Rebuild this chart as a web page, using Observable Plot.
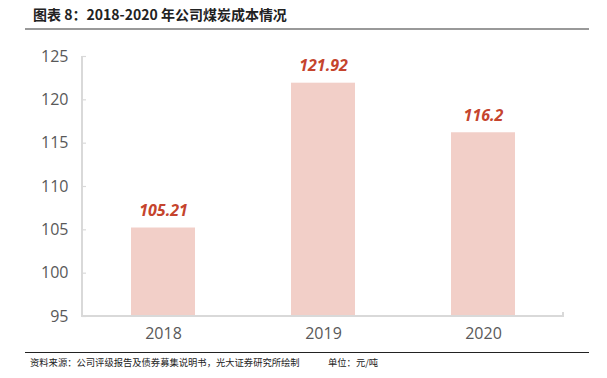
<!DOCTYPE html>
<html><head><meta charset="utf-8">
<script src="https://cdn.jsdelivr.net/npm/d3@7"></script>
<script src="https://cdn.jsdelivr.net/npm/@observablehq/plot@0.6"></script>
<style>
body{margin:0;width:607px;height:378px;background:#fff;position:relative;overflow:hidden;font-family:"Noto Sans CJK SC","Noto Sans",sans-serif;}
#title{position:absolute;left:33px;top:4px;font-size:14px;font-weight:bold;color:#222;line-height:20px;white-space:nowrap;}
#tline{position:absolute;left:25px;top:28px;width:564px;height:0;border-top:2px solid #999;}
#chart{position:absolute;left:0;top:30px;}
#fline{position:absolute;left:25px;top:352px;width:564px;height:0;border-top:1px solid #222;}
#src{position:absolute;left:30px;top:355px;font-size:9.3px;color:#222;line-height:14px;white-space:nowrap;}
#unit{position:absolute;left:328px;top:355px;font-size:9.3px;color:#222;line-height:14px;white-space:nowrap;}
</style></head>
<body>
<div id="title">图表 8：2018-2020 年公司煤炭成本情况</div>
<div id="tline"></div>
<div id="chart"></div>
<div id="fline"></div>
<div id="src">资料来源：公司评级报告及债券募集说明书，光大证券研究所绘制</div>
<div id="unit">单位：元/吨</div>
<script>
const years = ["2018", "2019", "2020"];
const costs = [105.21, 121.92, 116.2];
const costLabels = ["105.21", "121.92", "116.2"];
const yTicks = [95, 100, 105, 110, 115, 120, 125];

const data = years.map((y, i) => ({year: y, cost: costs[i], label: costLabels[i]}));

// axis frame lines (left + bottom), drawn from the plot dimensions
function axisFrame(index, scales, values, dims) {
  const g = d3.create("svg:g").attr("stroke", "#d9d9d9").attr("stroke-width", 2).attr("fill", "none");
  const l = dims.marginLeft, r = dims.width - dims.marginRight;
  const t = dims.marginTop, b = dims.height - dims.marginBottom;
  g.append("path").attr("d", `M${l},${t}V${b}H${r}V${b - 4}`);
  return g.node();
}

const chart = Plot.plot({
  width: 607,
  height: 315,
  marginTop: 26,
  marginBottom: 29,
  marginLeft: 82,
  marginRight: 44,
  style: {fontFamily: "'Open Sans', sans-serif", background: "transparent"},
  x: {domain: years, paddingInner: 0.6, paddingOuter: 0.3, label: null},
  y: {domain: [95, 125], label: null},
  marks: [
    Plot.barY(data, {x: "year", y1: 95, y2: "cost", fill: "#f2cfc8"}),
    axisFrame,
    Plot.axisY(yTicks, {tickSize: 4, dx: 4, text: null, stroke: "#d9d9d9", strokeWidth: 1.2}),
    Plot.axisY(yTicks, {tickSize: 0, tickPadding: 14, fontSize: 16, fill: "#595959"}),
    Plot.axisX({tickSize: 0, tickPadding: 11, fontSize: 16, fill: "#595959"}),
    Plot.text(data, {x: "year", y: "cost", text: "label", dy: -17, fill: "#c5442d",
      fontSize: 16, fontWeight: "bold", fontStyle: "italic"})
  ]
});
document.getElementById("chart").appendChild(chart);
</script>
</body></html>
